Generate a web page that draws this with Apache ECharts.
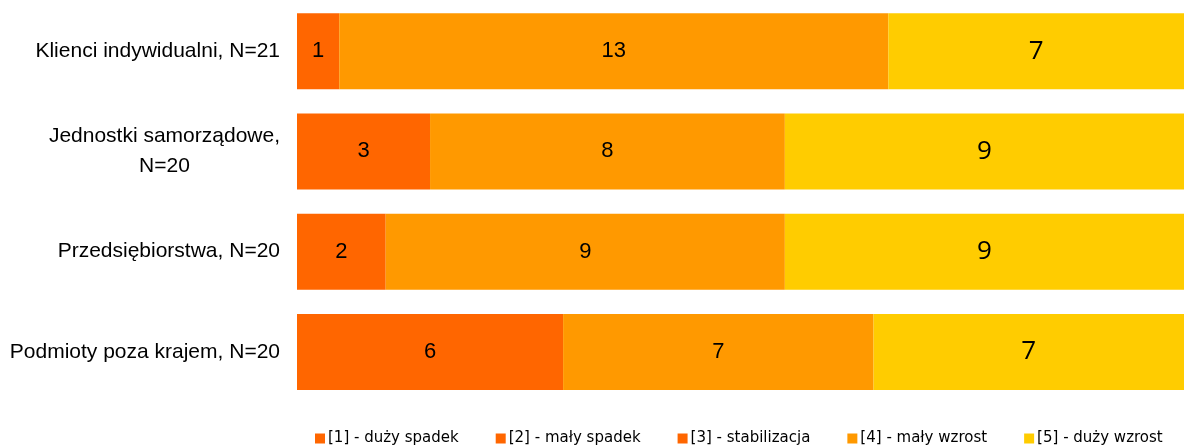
<!DOCTYPE html>
<html>
<head>
<meta charset="utf-8">
<script src="https://cdn.jsdelivr.net/npm/echarts@6/dist/echarts.min.js"></script>
<style>
  html, body { margin: 0; padding: 0; background: #fff; }
  #chart { width: 1184px; height: 446px; }
</style>
</head>
<body>
<div id="chart"></div>
<script>
// kategorie (oś Y)
var categories = ['Klienci indywidualni, N=21', 'Jednostki samorządowe,\nN=20', 'Przedsiębiorstwa, N=20', 'Podmioty poza krajem, N=20'];
var seriesNames = ['[1] - duży spadek', '[2] - mały spadek', '[3] - stabilizacja', '[4] - mały wzrost', '[5] - duży wzrost'];
var colors = ['#FF6600', '#FF6600', '#FF6600', '#FF9900', '#FFCC00'];

// liczebności odpowiedzi
var s1 = [0, 0, 0, 0];
var s2 = [0, 0, 0, 0];
var s3 = [1, 3, 2, 6];
var s4 = [13, 8, 9, 7];
var s5 = [7, 9, 9, 7];

var counts = [s1, s2, s3, s4, s5];
var totals = categories.map(function (c, i) {
    var t = 0;
    counts.forEach(function (s) { t += s[i]; });
    return t;
});

var chart = echarts.init(document.getElementById('chart'));

var series = counts.map(function (s, k) {
    return {
        name: seriesNames[k],
        type: 'bar',
        stack: 'all',
        barWidth: 76,
        itemStyle: { color: colors[k] },
        label: {
            show: true,
            position: 'inside',
            color: '#000',
            fontFamily: k === 4 ? 'Open Sans' : 'Liberation Sans',
            fontSize: k === 4 ? 26 : 22,
            formatter: function (p) {
                var v = s[p.dataIndex];
                return v ? String(v) : '';
            }
        },
        data: s.map(function (v, i) { return v / totals[i] * 100; })
    };
});

chart.setOption({
    animation: false,
    textStyle: { fontFamily: 'Liberation Sans' },
    grid: { left: 297, right: 0, top: 1, bottom: 44 },
    xAxis: {
        type: 'value',
        min: 0,
        max: 100,
        show: false
    },
    yAxis: {
        type: 'category',
        inverse: true,
        data: categories,
        axisLine: { show: false },
        axisTick: { show: false },
        axisLabel: {
            margin: 17,
            color: '#000',
            fontSize: 21,
            lineHeight: 30,
            formatter: function (v) {
                return '{c|' + v.split('\n').join('}\n{c|') + '}';
            },
            rich: {
                c: { align: 'center', fontSize: 21, color: '#000', lineHeight: 30 }
            }
        }
    },
    legend: {
        left: 315,
        top: 431,
        padding: 0,
        icon: 'rect',
        itemWidth: 10,
        itemHeight: 10,
        itemGap: 37,
        textStyle: { fontFamily: 'DejaVu Sans', fontSize: 15, color: '#000', padding: [0, 0, 0, -2] },
        data: seriesNames
    },
    series: series
});
</script>
</body>
</html>
